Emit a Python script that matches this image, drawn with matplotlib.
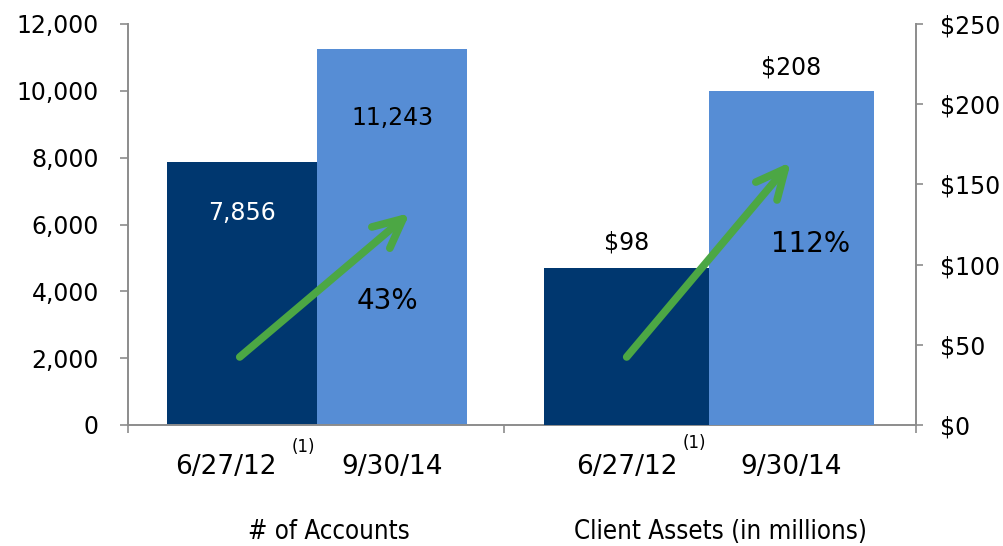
import matplotlib.pyplot as plt
import numpy as np
from matplotlib.ticker import FuncFormatter

# data
groups = ["# of Accounts", "Client Assets (in millions)"]
dates = ["6/27/12", "9/30/14"]
accounts = [7856, 11243]
assets = [98, 208]
account_labels = ["7,856", "11,243"]
asset_labels = ["$98", "$208"]
growth = ["43%", "112%"]

DARK = "#00376f"
LIGHT = "#568dd5"
GREEN = "#4ca744"
GRAY = "#8c8c8c"

plt.rcParams["font.family"] = ["DejaVu Sans"]


def main() -> None:
    fig = plt.figure(figsize=(10.04, 5.46), dpi=100)
    ax = fig.add_axes([128 / 1004, 121 / 546, 788 / 1004, 401 / 546])
    ax2 = ax.twinx()

    widths = [0.383, 0.421]
    x = np.arange(len(groups))

    # left group: accounts on left axis
    w = widths[0]
    ax.bar(x[0] - w / 2, accounts[0], w, color=DARK)
    ax.bar(x[0] + w / 2, accounts[1], w, color=LIGHT)
    # right group: assets on right axis
    w = widths[1]
    ax2.bar(x[1] - w / 2, assets[0], w, color=DARK)
    ax2.bar(x[1] + w / 2, assets[1], w, color=LIGHT)

    ax.set_xlim(-0.482, 1.528)
    ax.set_ylim(0, 12000)
    ax2.set_ylim(0, 250)
    ax.set_yticks(np.arange(0, 12001, 2000))
    ax2.set_yticks(np.arange(0, 251, 50))
    ax.yaxis.set_major_formatter(FuncFormatter(lambda v, p: f"{v:,.0f}"))
    ax2.yaxis.set_major_formatter(FuncFormatter(lambda v, p: f"${v:,.0f}"))

    # category boundary ticks and date labels
    ax.set_xticks([-0.482, 0.477, 1.528])
    ax.set_xticklabels([])
    centers = [x[0] - widths[0] / 2, x[0] + widths[0] / 2,
               x[1] - widths[1] / 2, x[1] + widths[1] / 2]
    label_pos = [centers[0] - 0.04] + centers[1:]
    ax.set_xticks(label_pos, minor=True)
    ax.set_xticklabels(dates * 2, minor=True, fontsize=19)
    ax.tick_params(axis="x", which="minor", length=0, pad=21)
    ax.tick_params(axis="x", which="major", length=6, width=1.2, color=GRAY)

    ax.tick_params(axis="y", length=6, width=1.2, color=GRAY, labelsize=17, pad=15)
    ax2.tick_params(axis="y", length=5, width=1.2, color=GRAY, labelsize=17, pad=12)

    for a in (ax, ax2):
        a.spines["top"].set_visible(False)
        for s in ("left", "right", "bottom"):
            a.spines[s].set_color(GRAY)
            a.spines[s].set_linewidth(1.4)
    ax2.spines["left"].set_visible(False)
    ax2.spines["bottom"].set_visible(False)
    ax.spines["right"].set_visible(False)

    # value labels
    ax.text(centers[0], 6350, account_labels[0], color="white", fontsize=17,
            ha="center", va="center")
    ax.text(centers[1], 9200, account_labels[1], color="black", fontsize=17,
            ha="center", va="center")
    ax2.text(centers[2], assets[0] + 16, asset_labels[0], fontsize=17,
             ha="center", va="center")
    ax2.text(centers[3], assets[1] + 15, asset_labels[1], fontsize=17,
             ha="center", va="center")
    ax.text(0.18, 3700, growth[0], fontsize=20, ha="center", va="center")
    ax2.text(1.26, 113, growth[1], fontsize=20, ha="center", va="center")

    # growth arrows
    for a, start, end in ((ax, (-0.197, 2035), (0.237, 6344)),
                          (ax2, (0.79, 42.4), (1.209, 164))):
        a.annotate("", xy=end, xytext=start,
                   arrowprops=dict(arrowstyle="->,head_length=2.1,head_width=1.0",
                                   color=GREEN, lw=5.5, capstyle="round",
                                   joinstyle="round", shrinkA=0, shrinkB=0))

    # superscripts and group titles
    xt = ax.get_xaxis_transform()
    ax.text(-0.035, -0.055, "(1)", transform=xt, fontsize=12,
            ha="center", va="center")
    ax.text(0.963, -0.045, "(1)", transform=xt, fontsize=12,
            ha="center", va="center")
    ax.text(0.03, -0.268, groups[0], transform=xt, fontsize=18.5,
            fontstretch="condensed", ha="center", va="center")
    ax.text(1.03, -0.268, groups[1], transform=xt, fontsize=18.5,
            fontstretch="condensed", ha="center", va="center")

    fig.savefig("out.png", dpi=100)


if __name__ == "__main__":
    main()
